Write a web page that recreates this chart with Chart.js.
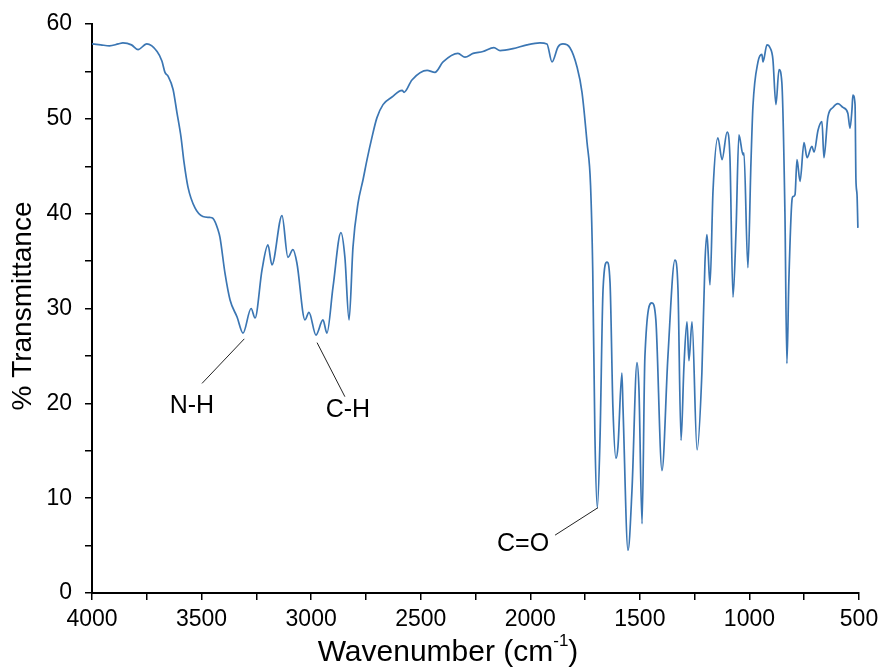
<!DOCTYPE html>
<html>
<head>
<meta charset="utf-8">
<script src="https://cdn.jsdelivr.net/npm/chart.js@4.4.1/dist/chart.umd.min.js"></script>
<style>
html,body{margin:0;padding:0;background:#fff;}
#wrap{width:881px;height:668px;position:relative;}
</style>
</head>
<body>
<div id="wrap"><canvas id="c"></canvas></div>
<script>
// Wavenumbers (cm^-1)
const wavenumbers = [
 4000,3960,3920,3880,3859,3820,3790,3750,3703,3681,3667,3653,3630,3612,3594,3580,3562,3530,3494,3462,3448,3425,3416,3393,3370,3338,3311,3274,3256,3224,3197,3179,3133,3106,3083,3065,3028,3010,2978,2946,2928,2900,2864,2846,2827,2809,2786,2763,2745,2722,2700,2672,2631,2585,2576,2540,2471,2435,2398,2330,2298,2261,2216,2166,2138,2079,2015,1956,1924,1901,1873,1851,1819,1787,1764,1741,1725,1715,1705,1694,1682,1668,1650,1636,1623,1609,1600,1582,1577,1554,1536,1513,1504,1490,1477,1445,1427,1399,1372,1340,1326,1312,1299,1285,1276,1262,1239,1217,1203,1194,1189,1180,1166,1144,1125,1102,1089,1075,1061,1048,1029,1025,1007,993,984,961,943,938,920,906,893,879,865,852,838,829,820,806,801,792,783,769,751,737,715,705,687,669,660,642,619,596,573,551,541,532,528,518,514,509,505
];
// % Transmittance at each wavenumber
const transmittance = [
 57.9,57.8,57.7,57.9,58.0,57.8,57.3,57.9,57.1,56.1,54.9,54.5,53.1,50.6,48.1,45.4,42.8,40.6,39.7,39.6,39.5,38.3,37.5,33.7,30.9,29.1,27.4,30.0,29.0,34.1,36.7,34.6,39.8,35.4,36.2,34.8,28.8,29.6,27.2,28.8,27.4,32.3,38.0,35.4,28.8,36.5,41.1,43.6,45.7,48.1,50.1,51.5,52.3,53.0,52.8,54.1,55.1,54.9,56.0,56.9,56.5,56.9,57.1,57.5,57.2,57.4,57.8,58.0,57.9,56.0,57.6,57.9,57.5,55.5,52.8,47.5,43.0,34.0,16.5,9.0,16.1,32.0,34.9,32.7,19.6,14.2,15.4,23.2,19.6,4.5,10.8,24.3,21.4,7.3,24.9,30.6,28.8,12.9,24.9,35.1,32.0,16.1,23.8,28.6,24.5,28.6,15.1,23.2,34.8,37.8,36.2,32.5,42.5,48.0,45.7,48.6,46.0,31.2,38.3,48.3,46.2,46.4,34.3,45.4,51.3,56.0,56.8,56.0,57.8,57.5,56.3,51.5,55.2,53.8,40.1,24.2,33.0,41.4,41.8,42.0,45.7,43.4,47.5,45.9,47.1,46.5,48.8,49.7,45.9,50.2,51.2,51.6,51.2,50.6,49.0,51.0,52.5,51.5,43.6,42.0,38.5
];
// Axis tick labels
const xTickLabels = [4000,3500,3000,2500,2000,1500,1000,500];
const yTickLabels = [0,10,20,30,40,50,60];
// Annotations: label, peak point, line end, label point
const annLabels = ["N-H","C-H","C=O"];
const annPeak = [[3305,26.8],[2973,26.4],[1691,9.0]];
const annLineEnd = [[3498,22.1],[2846,20.7],[1887,6.1]];
const annText = [[3544,19.7],[2832,19.3],[2033,5.2]];

const FONT = "'Liberation Sans', Arial, sans-serif";
const points = wavenumbers.map((w,i)=>({x:w,y:transmittance[i]}));

const overlay = {
  id:'overlay',
  afterDraw(chart){
    const ctx = chart.ctx, xs = chart.scales.x, ys = chart.scales.y;
    ctx.save();
    for(let i=0;i<annLabels.length;i++){
      ctx.strokeStyle = '#222'; ctx.lineWidth = 1;
      ctx.beginPath();
      ctx.moveTo(xs.getPixelForValue(annPeak[i][0]), ys.getPixelForValue(annPeak[i][1]));
      ctx.lineTo(xs.getPixelForValue(annLineEnd[i][0]), ys.getPixelForValue(annLineEnd[i][1]));
      ctx.stroke();
      ctx.fillStyle = '#000';
      ctx.font = '25px ' + FONT;
      ctx.textAlign = 'center'; ctx.textBaseline = 'middle';
      ctx.fillText(annLabels[i], xs.getPixelForValue(annText[i][0]), ys.getPixelForValue(annText[i][1]));
    }
    // y axis title
    ctx.fillStyle = '#000';
    ctx.font = '28px ' + FONT;
    ctx.save();
    ctx.translate(23, 306);
    ctx.rotate(-Math.PI/2);
    ctx.textAlign='center'; ctx.textBaseline='middle';
    ctx.fillText('% Transmittance', 0, 0);
    ctx.restore();
    // x axis title with superscript
    const main = 'Wavenumber (cm', sup = '-1', close = ')';
    ctx.font = '30px ' + FONT;
    const w1 = ctx.measureText(main).width;
    const w3 = ctx.measureText(close).width;
    ctx.font = '17px ' + FONT;
    const w2 = ctx.measureText(sup).width;
    const total = w1+w2+w3;
    const cx = 448;
    let x0 = cx - total/2;
    const base = 661;
    ctx.textAlign='left'; ctx.textBaseline='alphabetic';
    ctx.font = '30px ' + FONT;
    ctx.fillText(main, x0, base);
    ctx.font = '17px ' + FONT;
    ctx.fillText(sup, x0+w1, base-15);
    ctx.font = '30px ' + FONT;
    ctx.fillText(close, x0+w1+w2, base);
    ctx.restore();
  }
};

new Chart(document.getElementById('c'), {
  type:'line',
  data:{datasets:[{
    data:points,
    borderColor:'#3b76b3',
    borderWidth:1.7,
    pointRadius:0,
    fill:false,
    cubicInterpolationMode:'monotone'
  }]},
  options:{
    responsive:true, maintainAspectRatio:false, animation:false,
    layout:{padding:{top:24,right:22,left:0,bottom:0}},
    plugins:{legend:{display:false},tooltip:{enabled:false}},
    scales:{
      x:{
        type:'linear', reverse:true, min:500, max:4000,
        afterFit(s){ s.height = 75; s.paddingLeft = 0; s.paddingRight = 0; },
        afterBuildTicks(s){ const t=[]; for(let v=4000; v>=500; v-=250) t.push({value:v}); s.ticks=t; },
        ticks:{
          autoSkip:false, maxRotation:0, padding:6, color:'#000',
          font:{family:FONT,size:23},
          callback:(v)=> xTickLabels.includes(v) ? String(v) : ''
        },
        grid:{display:true, drawOnChartArea:false, drawTicks:true, tickLength:7, color:'#000', lineWidth:1.5},
        border:{display:true, color:'#000', width:2}
      },
      y:{
        min:0, max:60,
        afterFit(s){ s.width = 92; s.paddingTop = 0; s.paddingBottom = 0; },
        afterBuildTicks(s){ const t=[]; for(let v=0; v<=60; v+=5) t.push({value:v}); s.ticks=t; },
        ticks:{
          autoSkip:false, padding:13, color:'#000',
          font:{family:FONT,size:23},
          callback:(v)=> yTickLabels.includes(v) ? String(v) : ''
        },
        grid:{display:true, drawOnChartArea:false, drawTicks:true, tickLength:7, color:'#000', lineWidth:1.5},
        border:{display:true, color:'#000', width:2}
      }
    }
  },
  plugins:[overlay]
});
</script>
</body>
</html>
